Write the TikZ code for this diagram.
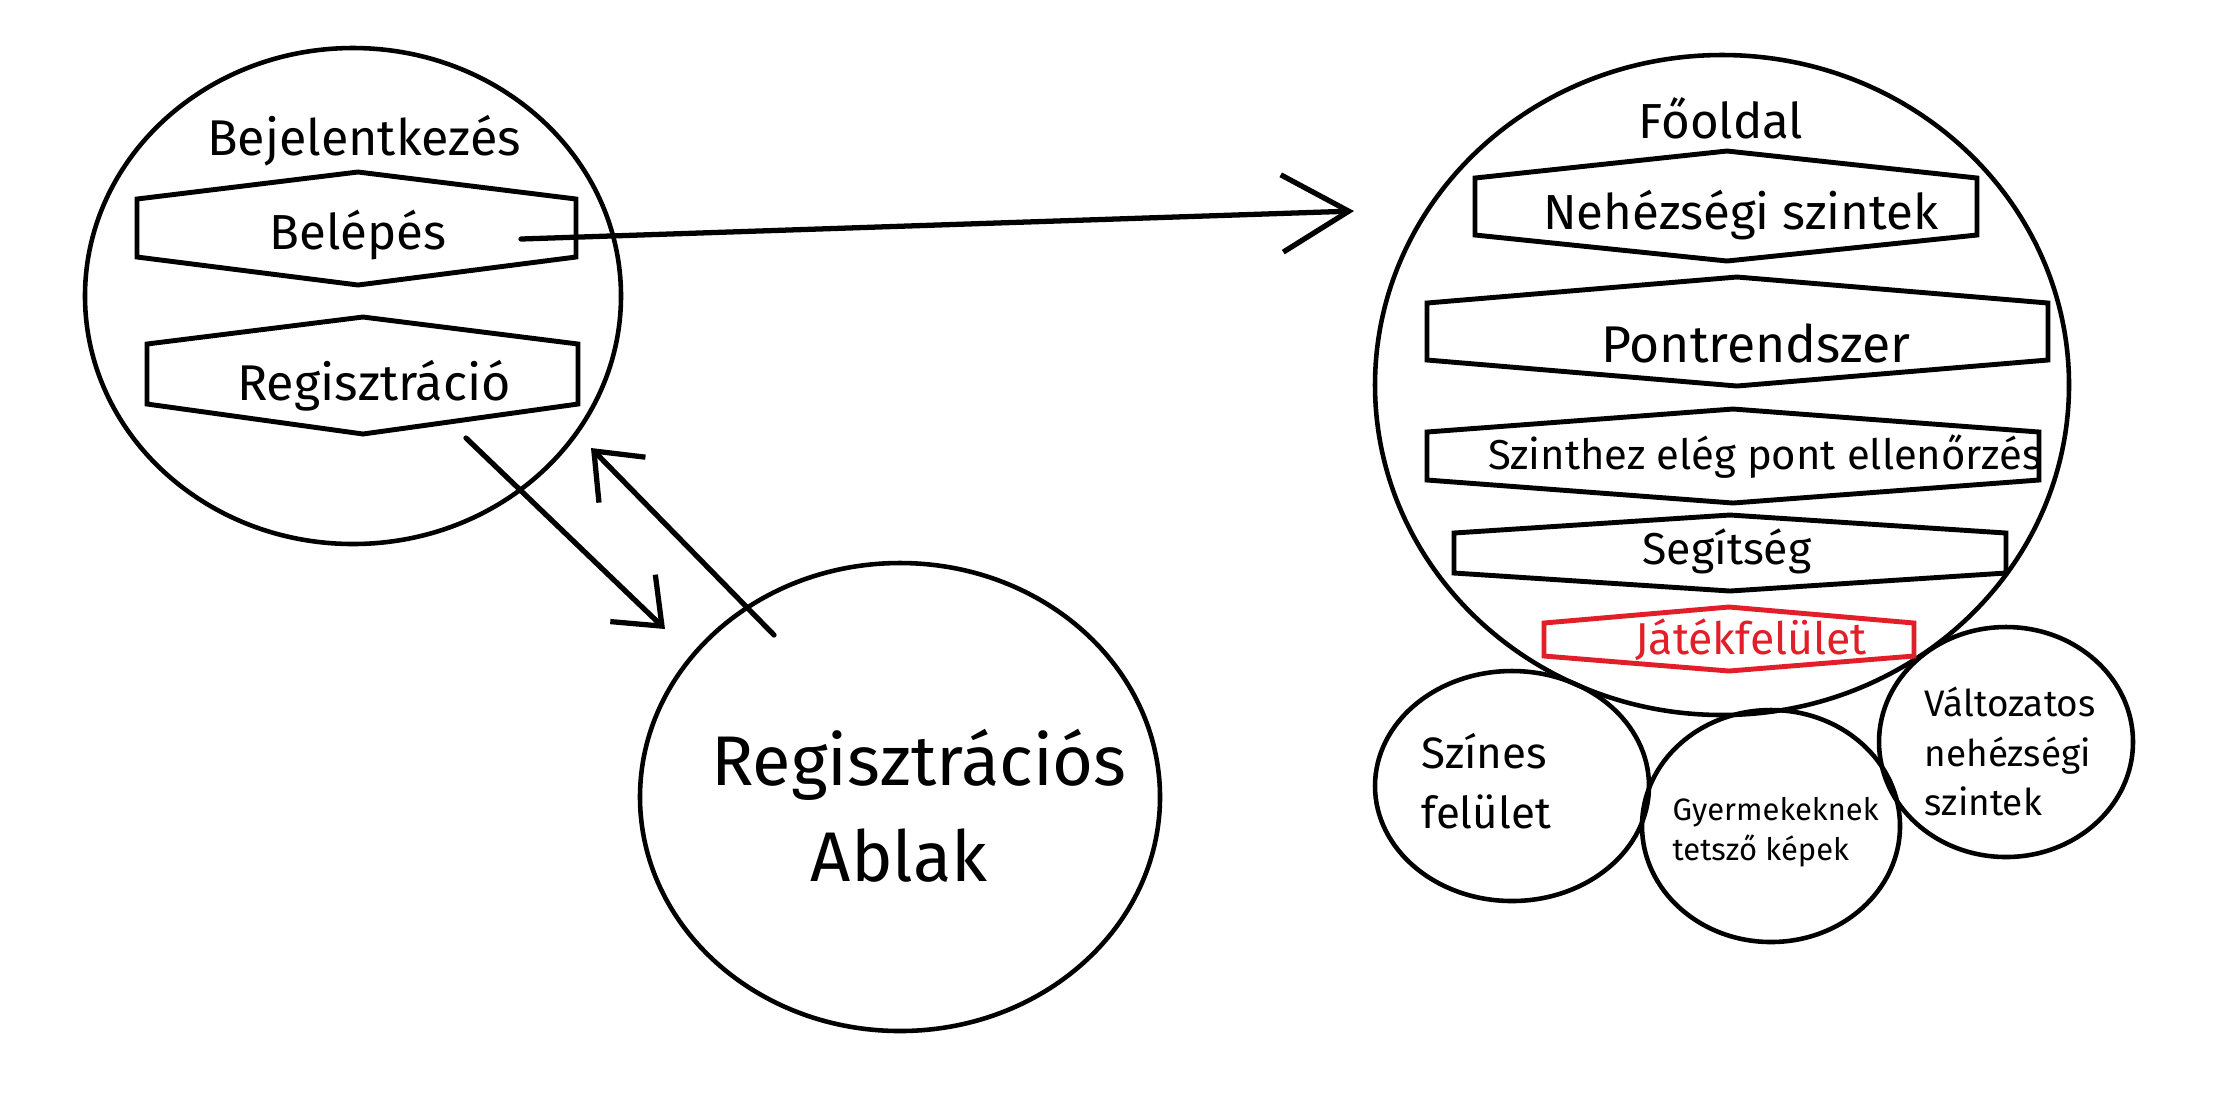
\documentclass[tikz,border=0pt]{standalone}
\usepackage{fontspec}
\setmainfont{Fira Sans}
\usetikzlibrary{arrows.meta,shapes.geometric}
\definecolor{hexred}{RGB}{226,30,40}
\tikzset{
  oval/.style={draw, line width=1.3pt, ellipse, inner sep=0pt},
  hexbox/.style={draw, line width=1.4pt, line join=miter},
  conn/.style={line width=1.5pt, line cap=round},
  tipbig/.style={-{Straight Barb[length=19pt,width=22pt,line width=1.5pt]}},
  tipsmall/.style={-{Straight Barb[length=11.5pt,width=18.5pt,line width=1.5pt]}},
  lbl/.style={inner sep=0pt, anchor=base},
  lblw/.style={inner sep=0pt, anchor=base west},
}
\newcommand{\fsz}[1]{\fontsize{#1}{#1}\selectfont}
\begin{document}
\begin{tikzpicture}[x=0.1mm,y=-0.1mm]
\useasboundingbox[fill=white] (0,0) rectangle (2224,1112);
% ellipses
\node[oval, minimum width=53.6mm, minimum height=49.6mm] (login) at (353,296) {};
\node[oval, minimum width=52mm, minimum height=46.8mm] (ablak) at (900,797) {};
\node[oval, minimum width=69.4mm, minimum height=66mm] (fooldal) at (1722,385) {};
\node[oval, minimum width=27.4mm, minimum height=23mm] (szines) at (1512,786) {};
\node[oval, minimum width=25.8mm, minimum height=23.2mm] (gyerek) at (1771,826) {};
\node[oval, minimum width=25.4mm, minimum height=23mm] (valtoz) at (2006,742) {};
% hexagons
\draw[hexbox] (137,199) -- (358,172) -- (576,199) -- (576,257) -- (358,285) -- (137,257) -- cycle;
\draw[hexbox] (147,344) -- (363,317) -- (578,344) -- (578,404) -- (363,434) -- (147,404) -- cycle;
\draw[hexbox] (1475,178) -- (1727,151) -- (1977,178) -- (1977,235) -- (1727,261) -- (1475,235) -- cycle;
\draw[hexbox] (1427,303) -- (1737,277) -- (2048,303) -- (2048,360) -- (1737,386) -- (1427,360) -- cycle;
\draw[hexbox] (1427,432) -- (1733,409) -- (2039,432) -- (2039,480) -- (1733,503) -- (1427,480) -- cycle;
\draw[hexbox] (1454,533) -- (1730,515) -- (2006,533) -- (2006,573) -- (1730,591) -- (1454,573) -- cycle;
\draw[hexbox, hexred] (1544,623) -- (1729,607) -- (1914,623) -- (1914,656) -- (1729,671) -- (1544,656) -- cycle;
% texts
\node[lbl] (tBej) at (364,155) {\fsz{14.3}Bejelentkezés};
\node[lbl] (tBel) at (358,249) {\fsz{14}Belépés};
\node[lbl] (tReg) at (374,400) {\fsz{14.3}Regisztráció};
\node[lbl] (tFo) at (1721,138) {\fsz{14}Főoldal};
\node[lbl] (tNeh) at (1741,229) {\fsz{14}Nehézségi szintek};
\node[lbl] (tPont) at (1756,362) {\fsz{14.7}Pontrendszer};
\node[lbl] (tSzint) at (1765,469) {\fsz{11.9}Szinthez elég pont ellenőrzés};
\node[lbl] (tSeg) at (1727,564) {\fsz{12.7}Segítség};
\node[lbl, text=hexred] (tJat) at (1751,654) {\fsz{12.7}Játékfelület};
\node[lbl] (tRegA1) at (919,785) {\fsz{20}Regisztrációs};
\node[lbl] (tRegA2) at (899,881) {\fsz{20}Ablak};
\node[lblw] (tSz1) at (1421,768) {\fsz{12.5}Színes};
\node[lblw] (tSz2) at (1421,828) {\fsz{12.5}felület};
\node[lblw] (tGy1) at (1672,820) {\fsz{8.8}Gyermekeknek};
\node[lblw] (tGy2) at (1672,860) {\fsz{8.8}tetsző képek};
\node[lblw] (tV1) at (1924,716) {\fsz{10.5}Változatos};
\node[lblw] (tV2) at (1924,766) {\fsz{10.5}nehézségi};
\node[lblw] (tV3) at (1924,815) {\fsz{10.5}szintek};
% connectors
\coordinate (c1s) at (521,239);
\coordinate (c1e) at (1354,211);
\coordinate (c2s) at (466,438);
\coordinate (c2e) at (665,629);
\coordinate (c3s) at (774,635);
\coordinate (c3e) at (591,448);
\draw[conn, tipbig] (c1s) -- (c1e);
\draw[conn, tipsmall] (c2s) -- (c2e);
\draw[conn, tipsmall] (c3s) -- (c3e);
\end{tikzpicture}
\end{document}
